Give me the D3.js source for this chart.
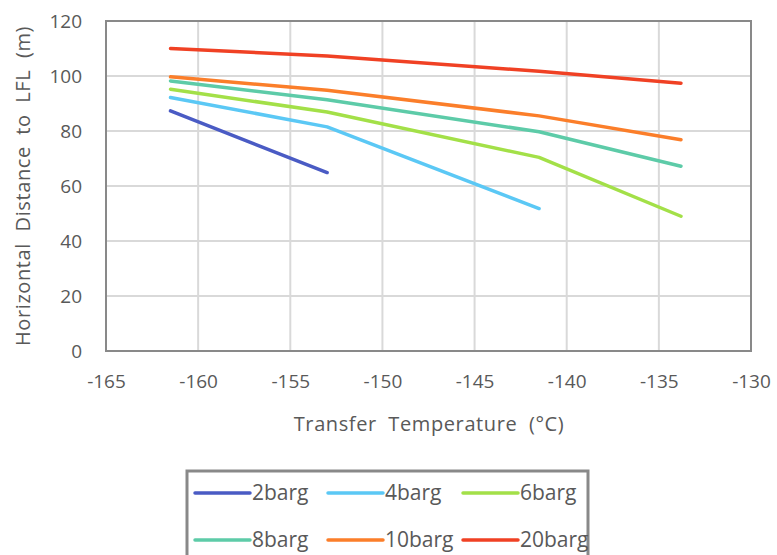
<!DOCTYPE html>
<html>
<head>
<meta charset="utf-8">
<script src="https://cdn.jsdelivr.net/npm/d3@7"></script>
<style>
  html, body { margin: 0; padding: 0; background: #fff; }
  svg { display: block; }
  text { font-family: "Open Sans", "Noto Sans", sans-serif; fill: #595959; }
</style>
</head>
<body>
<svg id="chart" width="777" height="555"></svg>
<script>
// ---- data ----
const temperatures = [-161.5, -153, -141.5, -133.8];
const seriesNames = ["2barg", "4barg", "6barg", "8barg", "10barg", "20barg"];
const seriesColors = ["#4a5bc4", "#5bc8f5", "#a3e048", "#5dcba8", "#fb7e2a", "#f04124"];
const v2barg  = [87.3, 64.9];
const v4barg  = [92.2, 81.5, 51.8];
const v6barg  = [95.2, 86.9, 70.4, 49.0];
const v8barg  = [98.2, 91.4, 79.7, 67.2];
const v10barg = [99.7, 94.8, 85.5, 76.8];
const v20barg = [110.0, 107.3, 101.7, 97.4];
const seriesValues = [v2barg, v4barg, v6barg, v8barg, v10barg, v20barg];
const xTicks = [-165, -160, -155, -150, -145, -140, -135, -130];
const yTicks = [0, 20, 40, 60, 80, 100, 120];
const xTitle = "Transfer  Temperature  (°C)";
const yTitle = "Horizontal  Distance  to  LFL  (m)";

// ---- layout ----
const svg = d3.select("#chart");
const L = 106, R = 751, T = 21, B = 351;
const x = d3.scaleLinear().domain([-165, -130]).range([L, R]);
const y = d3.scaleLinear().domain([0, 120]).range([B, T]);

// gridlines
const grid = svg.append("g");
grid.selectAll("line.v").data(xTicks).enter().append("line")
  .attr("x1", d => x(d)).attr("x2", d => x(d)).attr("y1", T).attr("y2", B)
  .attr("stroke", "#d9d9d9").attr("stroke-width", 2);
grid.selectAll("line.h").data(yTicks).enter().append("line")
  .attr("x1", L).attr("x2", R).attr("y1", d => y(d)).attr("y2", d => y(d))
  .attr("stroke", "#d9d9d9").attr("stroke-width", 2);

// plot border
svg.append("rect").attr("x", L).attr("y", T).attr("width", R - L).attr("height", B - T)
  .attr("fill", "none").attr("stroke", "#898989").attr("stroke-width", 2);

// axes (labels only)
const xAxis = d3.axisBottom(x).tickValues(xTicks).tickSize(0).tickPadding(24).tickFormat(d => String(d));
const gx = svg.append("g").attr("transform", `translate(0,${B})`).call(xAxis);
gx.select(".domain").remove();
gx.selectAll("text").attr("font-size", 19).style("font-family", "'Open Sans', sans-serif").attr("fill", "#595959");

const yAxis = d3.axisLeft(y).tickValues(yTicks).tickSize(0).tickPadding(24).tickFormat(d => String(d));
const gy = svg.append("g").attr("transform", `translate(${L},0)`).call(yAxis);
gy.select(".domain").remove();
gy.selectAll("text").attr("font-size", 19).style("font-family", "'Open Sans', sans-serif").attr("fill", "#595959");

// titles
svg.append("text").attr("x", 429).attr("y", 431).attr("text-anchor", "middle")
  .attr("font-size", 20).style("white-space", "pre").attr("letter-spacing", 0.6).text(xTitle);
svg.append("text").attr("transform", "translate(30,186) rotate(-90)").attr("text-anchor", "middle")
  .attr("font-size", 20).style("white-space", "pre").attr("letter-spacing", 0.6).text(yTitle);

// lines
const line = d3.line().x((d, i) => x(temperatures[i])).y(d => y(d));
seriesValues.forEach((vals, k) => {
  svg.append("path").datum(vals).attr("d", line)
    .attr("fill", "none").attr("stroke", seriesColors[k]).attr("stroke-width", 3.5)
    .attr("stroke-linecap", "round").attr("stroke-linejoin", "round");
});

// legend
const lg = svg.append("g");
lg.append("rect").attr("x", 187).attr("y", 471).attr("width", 401).attr("height", 100)
  .attr("fill", "#fff").attr("stroke", "#898989").attr("stroke-width", 3);
const colX = [195, 328, 463];
const rowY = [493, 540];
seriesNames.forEach((name, k) => {
  const cx = colX[k % 3], cy = rowY[Math.floor(k / 3)];
  lg.append("line").attr("x1", cx).attr("x2", cx + 55).attr("y1", cy).attr("y2", cy)
    .attr("stroke", seriesColors[k]).attr("stroke-width", 3.5).attr("stroke-linecap", "round");
  lg.append("text").attr("x", cx + 57).attr("y", cy + 7).attr("font-size", 21).text(name);
});
</script>
</body>
</html>
